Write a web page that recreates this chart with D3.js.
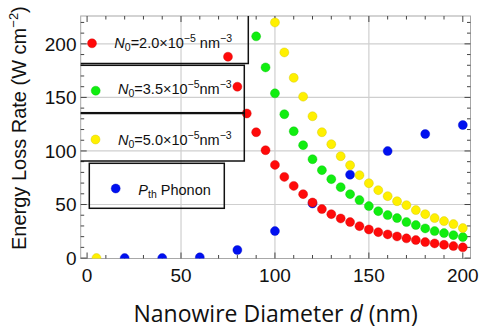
<!DOCTYPE html>
<html lang="en">
  <head>
    <meta charset="UTF-8" />
    <title></title>
    <script src="https://d3js.org/d3.v7.min.js"></script>
    <style>
      body { margin: 0; background: #fff; }
    </style>
  </head>
  <body>
    <svg id="chart" width="479" height="332"></svg>
    <script>
      // Data
      const redD = [75, 80, 85, 90, 95, 100, 105, 110, 115, 120, 125, 130, 135, 140, 145, 150, 155, 160, 165, 170, 175, 180, 185, 190, 195, 200]
      const redV = [188, 160, 135, 117.5, 100.7, 87, 75.8, 67.4, 59.7, 51.9, 45.7, 41, 37, 33.6, 29.8, 26.7, 24.2, 22.1, 20.2, 18.4, 16.8, 14.9, 13.7, 12.4, 11.2, 10]
      const greenD = [90, 95, 100, 105, 110, 115, 120, 125, 130, 135, 140, 145, 150, 155, 160, 165, 170, 175, 180, 185, 190, 195, 200]
      const greenV = [207, 178, 153.8, 134.3, 118.4, 105.4, 92.3, 82.1, 73.7, 66.2, 59.7, 54.1, 48.5, 43.8, 40.1, 37.3, 33.6, 30.8, 27.7, 25.2, 23.3, 21.4, 19.6]
      const yellowD = [5, 100, 105, 110, 115, 120, 125, 130, 135, 140, 145, 150, 155, 160, 165, 170, 175, 180, 185, 190, 195, 200]
      const yellowV = [0, 220, 192, 168.3, 150.7, 132.4, 117.5, 106.3, 95.1, 86.7, 77.4, 69.9, 63.4, 57.8, 53.1, 49.4, 44.8, 41, 37.3, 34.5, 31.7, 28]
      const blueD = [20, 40, 60, 80, 100, 120, 140, 160, 180, 200]
      const blueV = [0, 0, 0.7, 7.5, 25.2, 51, 77.8, 99.9, 115.8, 124.2]

      const xTicks = [0, 50, 100, 150, 200]
      const yTicks = [0, 50, 100, 150, 200]

      const svg = d3.select('#chart')
      const L = 80.7, R = 470.5, T = 16, B = 258.5

      const x = d3.scaleLinear().domain([-3.4, 204.1]).range([L, R])
      const y = d3.scaleLinear().domain([-0.4, 226]).range([B, T])

      svg.append('clipPath').attr('id', 'plotclip')
        .append('rect').attr('x', L).attr('y', T).attr('width', R - L).attr('height', B - T)

      // Grid lines
      svg.append('g').selectAll('line').data([50, 100, 150]).join('line')
        .attr('x1', d => x(d)).attr('x2', d => x(d)).attr('y1', T).attr('y2', B)
        .attr('stroke', '#cfcfcf').attr('stroke-width', 1.2)
      svg.append('g').selectAll('line').data([50, 100, 150, 200]).join('line')
        .attr('x1', L).attr('x2', R).attr('y1', d => y(d)).attr('y2', d => y(d))
        .attr('stroke', '#cfcfcf').attr('stroke-width', 1.2)

      // Frame
      svg.append('rect').attr('x', L).attr('y', T).attr('width', R - L).attr('height', B - T)
        .attr('fill', 'none').attr('stroke', '#a8a8a8').attr('stroke-width', 1)

      // Ticks (inward, all four sides)
      const xMinor = d3.range(0, 201, 10)
      const yMinor = d3.range(0, 221, 10)
      const tickCol = '#444'
      const ticks = svg.append('g').attr('stroke', tickCol).attr('stroke-width', 1)
      xMinor.forEach(v => {
        const len = v % 50 === 0 ? 6 : 3.5
        ticks.append('line').attr('x1', x(v)).attr('x2', x(v)).attr('y1', B).attr('y2', B - len)
        ticks.append('line').attr('x1', x(v)).attr('x2', x(v)).attr('y1', T).attr('y2', T + len)
      })
      yMinor.forEach(v => {
        const len = v % 50 === 0 ? 6 : 3.5
        ticks.append('line').attr('y1', y(v)).attr('y2', y(v)).attr('x1', L).attr('x2', L + len)
        ticks.append('line').attr('y1', y(v)).attr('y2', y(v)).attr('x1', R).attr('x2', R - len)
      })

      // Tick labels
      const tickFont = '"Liberation Sans", Arial, sans-serif'
      svg.append('g').selectAll('text').data(xTicks).join('text')
        .attr('x', d => x(d)).attr('y', 282)
        .attr('text-anchor', 'middle').attr('font-family', tickFont).attr('font-size', 19)
        .attr('fill', '#111').text(d => d)
      svg.append('g').selectAll('text').data(yTicks).join('text')
        .attr('x', 76.5).attr('y', d => y(d) + 6.8)
        .attr('text-anchor', 'end').attr('font-family', tickFont).attr('font-size', 19)
        .attr('fill', '#111').text(d => d)

      // Axis titles
      const xt = svg.append('text').attr('x', (L + R) / 2).attr('y', 321.5)
        .attr('text-anchor', 'middle').attr('font-family', '"Open Sans", sans-serif')
        .attr('font-size', 23).attr('fill', '#111')
      xt.append('tspan').text('Nanowire Diameter ')
      xt.append('tspan').attr('font-style', 'italic').text('d')
      xt.append('tspan').text(' (nm)')

      const yt = svg.append('text').attr('transform', 'translate(26,250) rotate(-90)')
        .attr('text-anchor', 'start').attr('font-family', tickFont)
        .attr('font-size', 20).attr('fill', '#111')
      yt.append('tspan').text('Energy Loss Rate (W cm')
      yt.append('tspan').attr('font-size', 13).attr('dy', -8).text('\u22122')
      yt.append('tspan').attr('dy', 8).text(')')

      // Points
      const series = [
        { d: blueD, v: blueV, c: '#0010f0' },
        { d: redD, v: redV, c: '#ff0a0a' },
        { d: greenD, v: greenV, c: '#10ee10' },
        { d: yellowD, v: yellowV, c: '#fff000' }
      ]
      const pts = svg.append('g').attr('clip-path', 'url(#plotclip)')
      series.forEach(s => {
        pts.append('g').selectAll('circle').data(s.d.map((d, i) => [d, s.v[i]])).join('circle')
          .attr('cx', p => x(p[0])).attr('cy', p => y(p[1])).attr('r', 4.5)
          .attr('fill', s.c).attr('stroke', d3.color(s.c).darker(0.6)).attr('stroke-width', 0.4)
      })

      // Legend boxes (transparent, black borders, clipped to the frame)
      const lg = svg.append('g').attr('clip-path', 'url(#plotclip)')
      const boxes = [
        [76, 10, 248.3, 63.5],
        [76, 65.3, 244.3, 112.7],
        [76, 113.5, 244.3, 161],
        [89.3, 163.3, 224.3, 208.3]
      ]
      lg.selectAll('rect').data(boxes).join('rect')
        .attr('x', b => b[0]).attr('y', b => b[1])
        .attr('width', b => b[2] - b[0]).attr('height', b => b[3] - b[1])
        .attr('fill', 'none').attr('stroke', '#111').attr('stroke-width', 1.5)

      const legendFont = '"Liberation Sans", Arial, sans-serif'
      const legendItems = [
        { c: '#ff0a0a', mx: 92, my: 43.3, tx: 114.3, ty: 48.3, val: '2.0', sp: ' ' },
        { c: '#10ee10', mx: 95.7, my: 90.7, tx: 118, ty: 93.5, val: '3.5', sp: '' },
        { c: '#fff000', mx: 95.5, my: 139.5, tx: 118, ty: 145, val: '5.0', sp: '' }
      ]
      legendItems.forEach(it => {
        svg.append('circle').attr('cx', it.mx).attr('cy', it.my).attr('r', 4.5)
          .attr('fill', it.c).attr('stroke', d3.color(it.c).darker(0.6)).attr('stroke-width', 0.4)
        const t = svg.append('text').attr('x', it.tx).attr('y', it.ty)
          .attr('font-family', legendFont).attr('font-size', 14.5).attr('fill', '#111')
        t.append('tspan').attr('font-style', 'italic').text('N')
        t.append('tspan').attr('font-size', 10.5).attr('dy', 3).text('0')
        t.append('tspan').attr('dy', -3).text('=' + it.val + '\u00d710')
        t.append('tspan').attr('font-size', 10.5).attr('dy', -6).text('\u22125')
        t.append('tspan').attr('dy', 6).text(it.sp + 'nm')
        t.append('tspan').attr('font-size', 10.5).attr('dy', -6).text('\u22123')
      })
      svg.append('circle').attr('cx', 115.7).attr('cy', 188.5).attr('r', 4.5)
        .attr('fill', '#0010f0').attr('stroke', d3.color('#0010f0').darker(0.6)).attr('stroke-width', 0.4)
      const pt = svg.append('text').attr('x', 138.3).attr('y', 194.5)
        .attr('font-family', legendFont).attr('font-size', 14.5).attr('fill', '#111')
      pt.append('tspan').attr('font-style', 'italic').text('P')
      pt.append('tspan').attr('font-size', 10.5).attr('dy', 3).text('th')
      pt.append('tspan').attr('dy', -3).text('  Phonon')
    </script>
  </body>
</html>
